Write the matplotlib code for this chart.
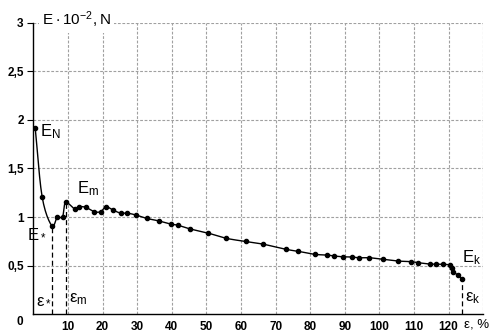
import numpy as np
import matplotlib.pyplot as plt

# strain, %  and load E*10^-2, N
strain = [0.5, 2.5, 5.3, 6.9, 8.4, 9.3, 12.0, 13.2, 15.1, 17.6, 19.4, 21.0, 23.1,
          25.2, 27.1, 29.7, 32.8, 36.2, 39.7, 41.8, 45.3, 50.4, 55.8, 61.3, 66.4,
          73.0, 76.6, 81.4, 85.0, 86.9, 89.5, 92.0, 94.1, 97.1, 101.1, 105.3,
          109.1, 111.2, 114.6, 116.5, 118.3, 120.4, 120.9, 121.3, 122.8, 124.0]
load = [1.92, 1.21, 0.91, 1.00, 1.00, 1.15, 1.08, 1.105, 1.10, 1.055, 1.055, 1.105,
        1.07, 1.04, 1.04, 1.02, 0.985, 0.96, 0.927, 0.915, 0.877, 0.835, 0.78,
        0.748, 0.72, 0.667, 0.646, 0.615, 0.608, 0.598, 0.59, 0.588, 0.58, 0.58,
        0.564, 0.546, 0.54, 0.529, 0.515, 0.515, 0.512, 0.505, 0.47, 0.436, 0.40,
        0.357]

eps_star, E_star = 5.3, 0.91
eps_m, E_m = 9.3, 1.13
eps_k, E_k = 124.0, 0.357

xticks = list(range(10, 130, 10))
yticks = [0.5, 1, 1.5, 2, 2.5, 3]
ytick_labels = ["0,5", "1", "1,5", "2", "2,5", "3"]


def catmull_rom(x, y, n=12):
    # smooth curve through the measured points
    x = np.asarray(x, float)
    y = np.asarray(y, float)
    px = np.concatenate([[2 * x[0] - x[1]], x, [2 * x[-1] - x[-2]]])
    py = np.concatenate([[2 * y[0] - y[1]], y, [2 * y[-1] - y[-2]]])
    xs, ys = [], []
    t = np.linspace(0, 1, n, endpoint=False)
    for i in range(1, len(px) - 2):
        for arr, out in ((px, xs), (py, ys)):
            p0, p1, p2, p3 = arr[i - 1:i + 3]
            out.extend(0.5 * (2 * p1 + (-p0 + p2) * t
                              + (2 * p0 - 5 * p1 + 4 * p2 - p3) * t ** 2
                              + (-p0 + 3 * p1 - 3 * p2 + p3) * t ** 3))
    xs.append(x[-1])
    ys.append(y[-1])
    return np.array(xs), np.array(ys)


plt.rcParams['font.family'] = ['Liberation Sans', 'DejaVu Sans']

fig = plt.figure(figsize=(4.92, 3.33), dpi=100)
ax = fig.add_axes([0.068, 0.057, 0.914, 0.874])

ax.set_xlim(0, 130)
ax.set_ylim(0, 3)

# dashed grid
for gx in range(10, 140, 10):
    ax.axvline(gx, color='#a0a0a0', lw=0.8, ls=(0, (2.5, 1.5)), zorder=0)
for gy in yticks:
    ax.axhline(gy, color='#a0a0a0', lw=0.8, ls=(0, (2.5, 1.5)), zorder=0)

for side in ('top', 'right'):
    ax.spines[side].set_visible(False)
ax.spines['left'].set_linewidth(1.0)
ax.spines['bottom'].set_linewidth(1.0)

ax.set_xticks(xticks)
ax.set_xticklabels([str(v) for v in xticks], fontsize=8.5, fontweight='bold')
ax.tick_params(axis='x', length=0, pad=5)
ax.set_yticks(yticks)
ax.set_yticklabels(ytick_labels, fontsize=8.5, fontweight='bold')
ax.tick_params(axis='y', length=4, width=0.8, pad=3)

# curve and points
sx, sy = catmull_rom(strain, load)
ax.plot(sx, sy, color='black', lw=1.0, zorder=3)
ax.plot(strain, load, 'o', color='black', ms=3.0, zorder=4)

# characteristic strains
for ex, ey in ((eps_star, E_star), (eps_m, E_m), (eps_k, E_k)):
    ax.plot([ex, ex], [0, ey], color='black', lw=0.9, ls=(0, (4, 2.5)), zorder=3)

lbl = dict(fontsize=12, color='black', va='center', clip_on=False)
ax.text(2.0, 1.88, r'$\mathregular{E_N}$', ha='left', **lbl)
ax.text(12.6, 1.29, r'$\mathregular{E_m}$', ha='left', **lbl)
ax.text(-1.8, 0.83, r'$\mathregular{E_*}$', ha='left', **lbl)
ax.text(0.6, 0.15, r'$\mathregular{\varepsilon_*}$', ha='left', **lbl)
ax.text(10.2, 0.15, r'$\mathregular{\varepsilon_m}$', ha='left', **lbl)
ax.text(123.8, 0.58, r'$\mathregular{E_k}$', ha='left', **lbl)
ax.text(124.8, 0.16, r'$\mathregular{\varepsilon_k}$', ha='left', **lbl)
ax.text(124.6, -0.11, 'ε, %', ha='left', fontsize=9.5, va='center', clip_on=False)
ax.text(-4.0, -0.08, '0', ha='center', va='center', fontsize=8.5,
        fontweight='bold', clip_on=False)
ax.text(2.4, 3.03, r'$\mathregular{E\cdot10^{-2}, N}$', ha='left', va='center',
        fontsize=11, clip_on=False,
        bbox=dict(facecolor='white', edgecolor='none', pad=2))

fig.savefig('out.png', dpi=100)
